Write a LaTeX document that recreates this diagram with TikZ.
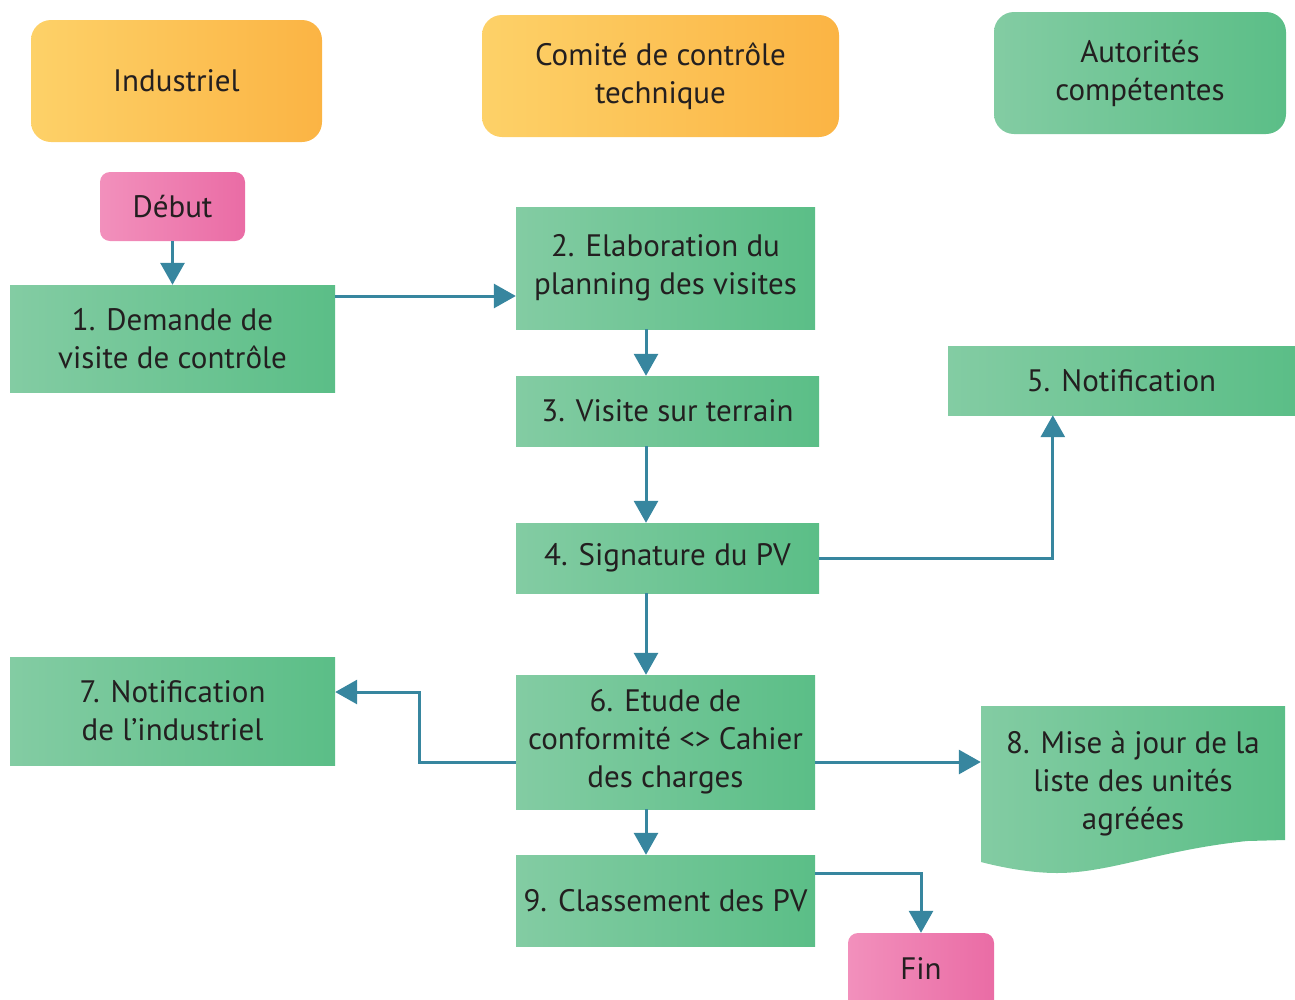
\documentclass[tikz,border=0pt]{standalone}
\usepackage{fontspec}
\setmainfont{PT Sans}
\usetikzlibrary{arrows.meta}
\definecolor{orL}{HTML}{FDD168}
\definecolor{orR}{HTML}{FBB444}
\definecolor{grL}{HTML}{83CCA3}
\definecolor{grR}{HTML}{5BBE87}
\definecolor{pkL}{HTML}{F290BC}
\definecolor{pkR}{HTML}{EA6CA5}
\definecolor{arr}{HTML}{37869F}
\definecolor{txt}{HTML}{231F20}
\tikzset{
  base/.style={inner sep=0pt, align=center, text=txt,
    font=\fontsize{31pt}{38pt}\selectfont},
  hdr/.style={base, rounded corners=20pt, left color=orL, right color=orR},
  hdrg/.style={base, rounded corners=20pt, left color=grL, right color=grR},
  term/.style={base, rounded corners=10pt, left color=pkL, right color=pkR},
  stepbox/.style={base, left color=grL, right color=grR},
  conn/.style={draw=arr, line width=3pt, -{Triangle[width=24pt,length=22pt]}}
}
\begin{document}
\begin{tikzpicture}[x=1pt,y=-1pt]
\useasboundingbox (0,0) rectangle (1295,999);
% headers
\node[hdr, minimum width=291pt, minimum height=122pt] (h1) at (176.5,81) {Industriel};
\node[hdr, minimum width=357pt, minimum height=122pt] (h2) at (660.5,76) {Comité de contrôle\\technique};
\node[hdrg, minimum width=292pt, minimum height=122pt] (h3) at (1140,73) {Autorités\\compétentes};
% terminals
\node[term, minimum width=145pt, minimum height=69pt] (deb) at (172.5,206.5) {Début};
\node[term, minimum width=146pt, minimum height=80pt] (fin) at (921,973) {};
\node[base] (fint) at (921,969) {Fin};
% steps
\node[stepbox, minimum width=325pt, minimum height=107pt] (n1) at (172.5,338.5) {1. Demande de\\visite de contrôle};
\node[stepbox, minimum width=299pt, minimum height=122pt] (n2) at (665.5,268) {2. Elaboration du\\planning des visites};
\node[stepbox, minimum width=303pt, minimum height=70pt] (n3) at (667.5,411) {3. Visite sur terrain};
\node[stepbox, minimum width=303pt, minimum height=70pt] (n4) at (667.5,558) {4. Signature du PV};
\node[stepbox, minimum width=347pt, minimum height=69pt] (n5) at (1121.5,380.5) {5. Notification};
\node[stepbox, minimum width=299pt, minimum height=134pt] (n6) at (665.5,742) {6. Etude de\\conformité <> Cahier\\des charges};
\node[stepbox, minimum width=325pt, minimum height=108pt] (n7) at (172.5,711) {7. Notification\\de l’industriel};
\node[stepbox, minimum width=299pt, minimum height=91pt] (n9) at (665.5,900.5) {9. Classement des PV};
% document shape for step 8
\shade[left color=grL, right color=grR] (981,706) -- (1285,706) -- (1285,840) -- (1247,841)
  .. controls (1160,850) and (1110,873) .. (1057,873)
  .. controls (1030,873) and (1000,867) .. (981,862) -- cycle;
\node[base, minimum width=304pt, minimum height=134pt] (n8) at (1133,784) {8. Mise à jour de la\\liste des unités\\agréées};
% connectors
\draw[conn] (deb.south) -- (n1.north);
\draw[conn] ([yshift=42.5pt]n1.east) -- ([yshift=-28pt]n2.west);
\draw[conn] ([xshift=-19.5pt]n2.south) -- ([xshift=-21.5pt]n3.north);
\draw[conn] ([xshift=-21.5pt]n3.south) -- ([xshift=-21.5pt]n4.north);
\draw[conn] (n4.east) -| ([xshift=105pt]n5.south west);
\draw[conn] ([xshift=-21.5pt]n4.south) -- ([xshift=-19.5pt]n6.north);
\draw[conn] ([yshift=-20pt]n6.west) -- ++(-96pt,0) |- ([yshift=19pt]n7.east);
\draw[conn] ([yshift=-20pt]n6.east) -- ([yshift=22pt]n8.west);
\draw[conn] ([xshift=-19.5pt]n6.south) -- ([xshift=-19.5pt]n9.north);
\draw[conn] ([yshift=27.5pt]n9.east) -| (fin.north);
\end{tikzpicture}
\end{document}
